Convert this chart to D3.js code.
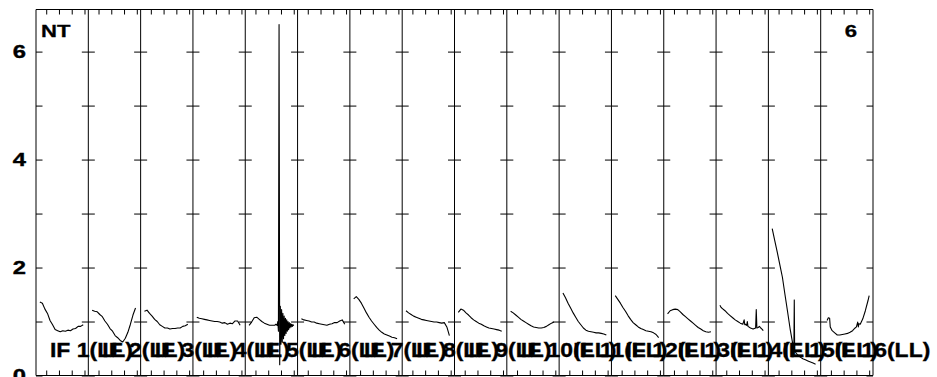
<!DOCTYPE html>
<html><head><meta charset="utf-8">
<script src="https://cdn.jsdelivr.net/npm/d3@7"></script>
<style>
body{margin:0;background:#fff}
svg{display:block}
text{font-family:"Liberation Sans",Arial,Helvetica,sans-serif;font-weight:bold;fill:#000}
</style>
</head><body>
<svg id="chart" width="937" height="377"></svg>
<script>
// ---------- data ----------
const panelLabels = ["IF 1(LL)","IF 2(LL)","IF 3(LL)","IF 4(LL)","IF 5(LL)","IF 6(LL)","IF 7(LL)","IF 8(LL)",
                     "IF 9(LL)","IF 10(LL)","IF 11(LL)","IF 12(LL)","IF 13(LL)","IF 14(LL)","IF 15(LL)","IF 16(LL)"];
const titleLeft = "NT";
const titleRight = "6";
const channelDomain = [2, 43];
const channelTicks = [10, 20, 30, 40];
const yDomain = [0, 6.78];
const yTicks = [0, 1, 2, 3, 4, 5, 6];
const yLabelTicks = [0, 2, 4, 6];

const channels = [5,7,9,11,13,15,17,19,21,23,25,27,29,31,33,35,37,39];
const if01 = [1.36,1.34,1.23,1.15,1.02,0.94,0.85,0.83,0.81,0.83,0.82,0.84,0.83,0.86,0.87,0.91,0.91,0.94];
const if02 = [1.21,1.19,1.18,1.13,1.09,1.01,0.95,0.87,0.82,0.74,0.70,0.65,0.62,0.69,0.80,0.95,1.12,1.25];
const if03 = [1.19,1.21,1.15,1.10,1.04,1.00,0.94,0.91,0.88,0.88,0.86,0.87,0.87,0.88,0.88,0.91,0.92,0.95];
const if04 = [1.08,1.06,1.05,1.04,1.03,1.02,1.01,1.00,1.00,0.99,0.97,0.98,0.95,0.97,0.96,1.01,1.01,0.93];
const ch05 = [5,7,9,11,13,15,17,19,21,23,25,26,27,27.5,28,28.5,29,29.5,30,30.5,31,31.5,32,32.5,33,33.5,34,34.5,35,35.5,36,36.5,37,37.5,38,38.5,39,39.5,40];
const if05 = [0.93,0.99,1.07,1.08,1.04,1.00,0.97,0.95,0.93,0.93,0.93,0.95,0.93,
              1.00,0.82,6.50,0.20,1.28,0.58,1.22,0.62,1.15,0.68,1.10,0.74,1.06,0.78,1.03,0.82,1.00,0.85,0.98,0.88,0.96,0.90,0.95,0.91,0.94,0.92];
const if06 = [1.05,1.03,1.02,1.01,0.99,0.99,0.97,0.96,0.95,0.94,0.93,0.95,0.96,0.98,0.98,1.01,1.03,0.95];
const if07 = [1.42,1.46,1.41,1.34,1.25,1.16,1.08,1.01,0.95,0.89,0.84,0.80,0.77,0.75,0.73,0.71,0.70,0.68];
const if08 = [1.20,1.16,1.13,1.10,1.08,1.06,1.04,1.03,1.02,1.01,1.00,0.99,0.99,0.98,0.97,0.98,0.90,0.74];
const if09 = [1.17,1.23,1.21,1.16,1.12,1.07,1.03,1.00,0.97,0.95,0.92,0.90,0.88,0.87,0.86,0.85,0.84,0.82];
const if10 = [1.19,1.16,1.12,1.08,1.04,1.01,0.98,0.95,0.92,0.90,0.89,0.88,0.88,0.89,0.91,0.94,0.97,0.99];
const if11 = [1.53,1.44,1.34,1.25,1.16,1.08,1.00,0.94,0.88,0.84,0.82,0.81,0.80,0.79,0.79,0.78,0.77,0.75];
const if12 = [1.48,1.41,1.34,1.26,1.19,1.11,1.04,0.98,0.94,0.90,0.87,0.85,0.83,0.82,0.81,0.79,0.76,0.70];
const if13 = [1.14,1.20,1.22,1.23,1.22,1.18,1.13,1.09,1.05,1.01,0.97,0.93,0.89,0.86,0.83,0.81,0.80,0.81];
const ch14 = [5,6,7,9,11,13,15,17,19,21,22,23,24,24.5,25,26,26.5,27,29,31,32,33,33.5,34,35,36,37,38,39];
const if14 = [1.30,1.26,1.24,1.20,1.15,1.11,1.07,1.03,1.00,0.97,0.96,0.95,1.03,0.94,0.95,0.93,1.00,0.91,0.88,0.86,0.87,0.88,1.22,0.88,0.89,0.91,0.88,0.86,0.83];
const ch15 = [5,7,9,11,13,15,17,19,21,22,22.3,22.6,23,25,27,29,31,33,35,37,39];
const if15 = [2.72,2.50,2.28,2.05,1.82,1.50,1.19,0.87,0.60,0.53,1.40,0.45,0.44,0.38,0.34,0.31,0.29,0.27,0.25,0.23,0.21];
const ch16 = [7,8,9,9.5,11,13,15,17,19,21,23,25,27,29,30,31,31.5,32,33,35,37,39,40];
const if16 = [1.02,1.07,1.06,0.90,0.83,0.79,0.75,0.75,0.76,0.77,0.78,0.80,0.83,0.88,0.90,0.99,0.90,0.96,0.95,1.05,1.20,1.38,1.48];

const series = [
  {ch: channels, v: if01}, {ch: channels, v: if02}, {ch: channels, v: if03}, {ch: channels, v: if04},
  {ch: ch05, v: if05},     {ch: channels, v: if06}, {ch: channels, v: if07}, {ch: channels, v: if08},
  {ch: channels, v: if09}, {ch: channels, v: if10}, {ch: channels, v: if11}, {ch: channels, v: if12},
  {ch: channels, v: if13}, {ch: ch14, v: if14},     {ch: ch15, v: if15},     {ch: ch16, v: if16}
];

// ---------- layout ----------
const plotL = 36, plotR = 873, plotT = 9.5, plotB = 375.5;
const svg = d3.select("#chart");
const y = d3.scaleLinear().domain(yDomain).range([plotB, plotT]);
const panelX = d3.scaleLinear().domain([0, series.length]).range([plotL, plotR]);

const frame = svg.append("g").attr("stroke", "#000").attr("stroke-width", 1).attr("fill", "none");

series.forEach((s, i) => {
  const x0 = panelX(i), x1 = panelX(i + 1);
  const xs = d3.scaleLinear().domain(channelDomain).range([x0, x1]);

  svg.append("g").attr("transform", `translate(0,${plotT})`)
    .call(d3.axisBottom(xs).tickValues(channelTicks).tickSize(5).tickFormat(""))
    .call(g => g.select(".domain").remove());
  svg.append("g").attr("transform", `translate(0,${plotB})`)
    .call(d3.axisTop(xs).tickValues(channelTicks).tickSize(5).tickFormat(""))
    .call(g => g.select(".domain").remove());

  svg.append("g").attr("transform", `translate(${x0},0)`)
    .call(d3.axisRight(y).tickValues(yTicks).tickSize(6.5).tickFormat(""))
    .call(g => g.select(".domain").remove());
  svg.append("g").attr("transform", `translate(${x1},0)`)
    .call(d3.axisLeft(y).tickValues(yTicks).tickSize(6.5).tickFormat(""))
    .call(g => g.select(".domain").remove());

  frame.append("line").attr("x1", x0).attr("x2", x0).attr("y1", plotT).attr("y2", plotB);
  if (i === series.length - 1)
    frame.append("line").attr("x1", x1).attr("x2", x1).attr("y1", plotT).attr("y2", plotB);

  const line = d3.line().x(d => xs(d[0])).y(d => y(d[1]));
  svg.append("path")
    .datum(d3.zip(s.ch, s.v))
    .attr("d", line)
    .attr("fill", "none").attr("stroke", "#000").attr("stroke-width", 1.1).attr("stroke-linejoin", "round");
});

frame.append("line").attr("x1", plotL).attr("x2", plotR).attr("y1", plotT).attr("y2", plotT);
frame.append("line").attr("x1", plotL).attr("x2", plotR).attr("y1", plotB).attr("y2", plotB);

// y labels
svg.append("g").attr("transform", `translate(${plotL},0)`)
  .call(d3.axisLeft(y).tickValues(yLabelTicks).tickSize(0).tickPadding(8).tickFormat(d3.format("d")))
  .call(g => g.select(".domain").remove())
  .call(g => g.selectAll("text")
         .attr("font-size", 19).attr("font-weight", "bold")
         .attr("font-family", '"Liberation Sans",Arial,sans-serif')
         .attr("fill", "#000").attr("stroke", "#000").attr("stroke-width", 0.4)
         .attr("transform", "scale(1.25,1)"));

// panel labels (overlapping, as in the original)
svg.append("g").selectAll("text").data(panelLabels).join("text")
  .attr("transform", (d, i) => `translate(${panelX(i) + 14},357) scale(1.12,1)`)
  .attr("font-size", 20.5)
  .attr("stroke", "#000").attr("stroke-width", 0.35)
  .text(d => d);

// corner titles
svg.append("text").attr("transform", "translate(41,37) scale(1.3,1)")
  .attr("font-size", 17).attr("stroke", "#000").attr("stroke-width", 0.3).text(titleLeft);
svg.append("text").attr("transform", "translate(857,37) scale(1.3,1)")
  .attr("font-size", 17).attr("text-anchor", "end").attr("stroke", "#000").attr("stroke-width", 0.3).text(titleRight);

svg.selectAll(".tick line").attr("stroke", "#000");
</script>
</body></html>
